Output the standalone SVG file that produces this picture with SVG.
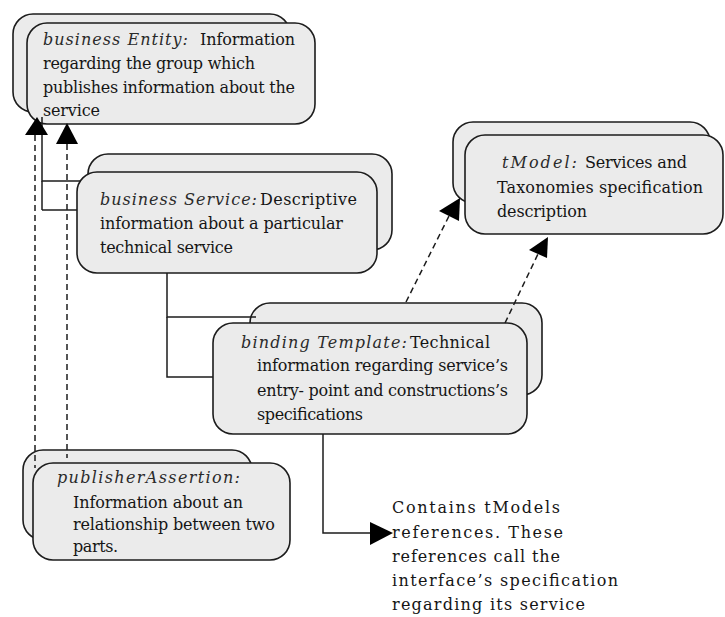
<svg xmlns="http://www.w3.org/2000/svg" width="725" height="617" viewBox="0 0 725 617">
  <style>
    .box { fill: #ebebeb; stroke: #1c1c1c; stroke-width: 1.6; }
    text { font-family: 'DejaVu Serif', 'Liberation Serif', serif; font-size: 16px; fill: #151515; }
    .lbl { font-style: italic; fill: #2a2a2a; }
    .line { fill: none; stroke: #1c1c1c; stroke-width: 1.5; }
    .dash { fill: none; stroke: #1c1c1c; stroke-width: 1.5; stroke-dasharray: 6 4; }
    .head { fill: #000; stroke: none; }
  </style>

  <!-- business Entity -->
  <g id="businessEntity">
    <rect class="box" x="13" y="14" width="277" height="98" rx="20"/>
    <rect class="box" x="27" y="23" width="288" height="101" rx="20"/>
    <text class="lbl" x="43" y="45" textLength="145" lengthAdjust="spacing">business Entity:</text>
    <text x="200" y="45" textLength="95" lengthAdjust="spacing">Information</text>
    <text x="43" y="69" textLength="212" lengthAdjust="spacing">regarding the group which</text>
    <text x="43" y="93" textLength="252" lengthAdjust="spacing">publishes information about the</text>
    <text x="43" y="116" textLength="57" lengthAdjust="spacing">service</text>
  </g>

  <!-- business Service -->
  <g id="businessService">
    <rect class="box" x="88" y="154" width="304" height="96" rx="20"/>
    <rect class="box" x="77" y="172" width="300" height="101" rx="20"/>
    <text class="lbl" x="100" y="205" textLength="157" lengthAdjust="spacing">business Service:</text>
    <text x="260" y="205" textLength="97" lengthAdjust="spacing">Descriptive</text>
    <text x="100" y="229" textLength="243" lengthAdjust="spacing">information about a particular</text>
    <text x="100" y="253" textLength="133" lengthAdjust="spacing">technical service</text>
  </g>

  <!-- tModel -->
  <g id="tModel">
    <rect class="box" x="453" y="122" width="257" height="81" rx="20"/>
    <rect class="box" x="465" y="135" width="258" height="99" rx="20"/>
    <text class="lbl" x="502" y="168" textLength="75" lengthAdjust="spacing">tModel:</text>
    <text x="585" y="168" textLength="102" lengthAdjust="spacing">Services and</text>
    <text x="497" y="193" textLength="206" lengthAdjust="spacing">Taxonomies specification</text>
    <text x="497" y="217" textLength="90" lengthAdjust="spacing">description</text>
  </g>

  <!-- binding Template -->
  <g id="bindingTemplate">
    <rect class="box" x="250" y="303" width="292" height="92" rx="20"/>
    <rect class="box" x="213" y="323" width="314" height="111" rx="20"/>
    <text class="lbl" x="241" y="348" textLength="166" lengthAdjust="spacing">binding Template:</text>
    <text x="410" y="348" textLength="80" lengthAdjust="spacing">Technical</text>
    <text x="257" y="371" textLength="251" lengthAdjust="spacing">information regarding service’s</text>
    <text x="257" y="396" textLength="251" lengthAdjust="spacing">entry- point and constructions’s</text>
    <text x="257" y="420" textLength="106" lengthAdjust="spacing">specifications</text>
  </g>

  <!-- publisherAssertion -->
  <g id="publisherAssertion">
    <rect class="box" x="23" y="450" width="229" height="90" rx="20"/>
    <rect class="box" x="33" y="463" width="257" height="97" rx="20"/>
    <text class="lbl" x="57" y="483" textLength="183" lengthAdjust="spacing">publisherAssertion:</text>
    <text x="73" y="508" textLength="170" lengthAdjust="spacing">Information about an</text>
    <text x="73" y="530" textLength="202" lengthAdjust="spacing">relationship between two</text>
    <text x="73" y="552" textLength="45" lengthAdjust="spacing">parts.</text>
  </g>

  <!-- note on tModel references -->
  <g id="referencesNote">
    <text x="392" y="513" textLength="168" lengthAdjust="spacing">Contains tModels</text>
    <text x="392" y="538" textLength="171" lengthAdjust="spacing">references. These</text>
    <text x="392" y="562" textLength="168" lengthAdjust="spacing">references call the</text>
    <text x="392" y="586" textLength="226" lengthAdjust="spacing">interface’s specification</text>
    <text x="392" y="610" textLength="193" lengthAdjust="spacing">regarding its service</text>
  </g>

  <!-- connectors -->
  <g id="connectors">
    <!-- service to entity -->
    <polyline class="line" points="81,181 42,181 42,117"/>
    <line class="line" x1="42" y1="210" x2="77" y2="210"/>
    <line class="line" x1="42" y1="181" x2="42" y2="210"/>
    <!-- template to service -->
    <polyline class="line" points="256,317 167,317 167,273"/>
    <polyline class="line" points="213,377 167,377 167,317"/>
    <!-- assertion to entity -->
    <line class="dash" x1="35" y1="135" x2="35" y2="468"/>
    <line class="dash" x1="67" y1="144" x2="67" y2="458"/>
    <polygon class="head" points="37,117 25,135 48,135"/>
    <polygon class="head" points="67,123 56,144 78,144"/>
    <!-- template to tModel -->
    <line class="dash" x1="406" y1="302" x2="449" y2="216"/>
    <polygon class="head" points="460,198 439,211 459,221"/>
    <line class="dash" x1="505" y1="323" x2="538" y2="254"/>
    <polygon class="head" points="548,237 529,250 547,258"/>
    <!-- template to note -->
    <polyline class="line" points="323,434 323,533 372,533"/>
    <polygon class="head" points="370,522 393,533 370,545"/>
  </g>
</svg>
